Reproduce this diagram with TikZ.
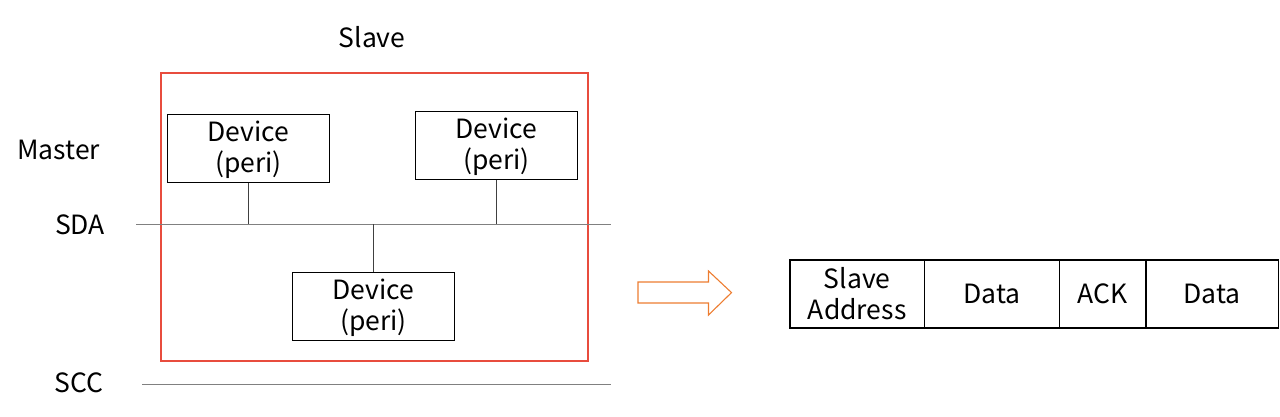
\documentclass[tikz,border=0pt]{standalone}
\usepackage{fontspec}
\setmainfont{Noto Sans CJK KR}
\definecolor{slavered}{HTML}{E84C3D}
\definecolor{arroworange}{HTML}{ED7D31}
\definecolor{busgray}{HTML}{808080}
\begin{document}
\begin{tikzpicture}[x=1pt,y=-1pt,
  lbl/.style={font=\fontsize{26.5}{30}\selectfont, inner sep=0pt, align=center},
  devbox/.style={draw=black, line width=1.1pt, minimum width=162pt, minimum height=68pt, inner sep=0pt, align=center, font=\fontsize{26.5}{31}\selectfont, anchor=north west, text depth=4pt},
  cell/.style={draw=black, line width=1.1pt, minimum height=68pt, inner sep=0pt, outer sep=0pt, align=center, font=\fontsize{26.5}{31}\selectfont, anchor=north west},
  bus/.style={draw=busgray, line width=1pt},
  tap/.style={draw=black!75, line width=0.9pt}]
\useasboundingbox (0,0) rectangle (1280,416);
% slave frame
\draw[slavered, line width=1.6pt] (161,73) rectangle (588,361);
\node[lbl] (slave) at (372,37) {Slave};
\node[lbl, anchor=west] (master) at (17,150) {Master};
\node[lbl] (sdalbl) at (80,225) {SDA};
\node[lbl] (scclbl) at (79,383) {SCC};
% buses
\coordinate (sdaA) at (136,224);
\coordinate (sdaB) at (611,224);
\coordinate (sccA) at (142,384);
\coordinate (sccB) at (611,384);
\draw[bus] (sdaA) -- (sdaB);
\draw[bus] (sccA) -- (sccB);
% devices
\node[devbox] (d1) at (167,114) {Device\\(peri)};
\node[devbox] (d2) at (415,111) {Device\\(peri)};
\node[devbox] (d3) at (292,272) {Device\\(peri)};
\draw[tap] (d1.south) -- (d1.south |- sdaA);
\draw[tap] (d2.south) -- (d2.south |- sdaA);
\draw[tap] (d3.north) -- (d3.north |- sdaA);
% arrow
\draw[arroworange, line width=1.1pt, line join=miter]
  (638,282) -- (708.5,282) -- (708.5,271) -- (731.5,292.6) -- (708.5,315) -- (708.5,303) -- (638,303) -- cycle;
% frame
\node[cell, minimum width=134.4pt] (c1) at (790,260) {Slave\\Address};
\node[cell, minimum width=135.3pt] (c2) at (c1.north east) {Data};
\node[cell, minimum width=86.3pt] (c3) at (c2.north east) {ACK};
\node[cell, minimum width=132.5pt] (c4) at (c3.north east) {Data};
\end{tikzpicture}
\end{document}
